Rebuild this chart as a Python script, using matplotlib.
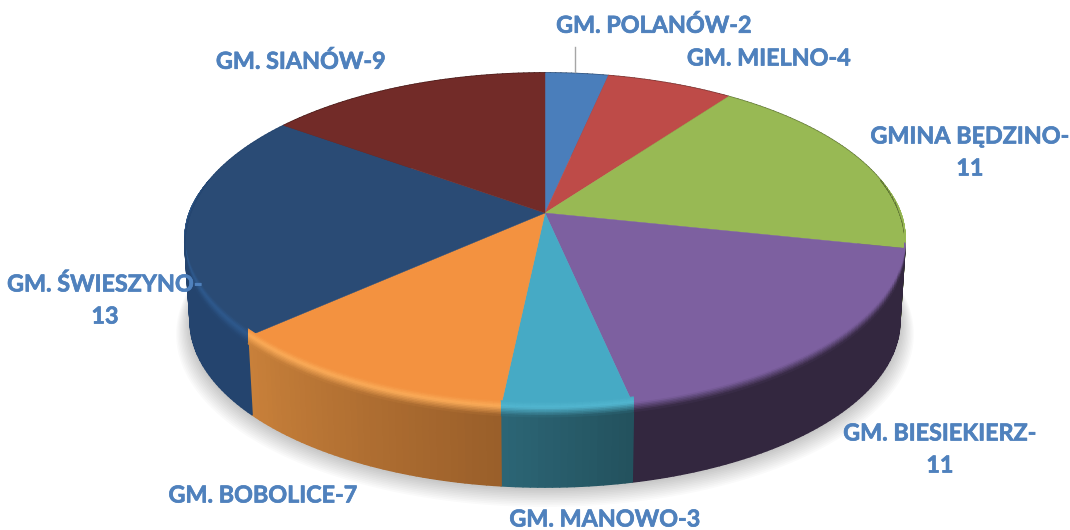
import numpy as np
import matplotlib
matplotlib.use("Agg")
import matplotlib.pyplot as plt
import matplotlib.patheffects as pe
from matplotlib.collections import PolyCollection
from matplotlib.colors import to_rgb

# Data, clockwise from 12 o'clock
names = ["GM. POLANÓW", "GM. MIELNO", "GMINA BĘDZINO", "GM. BIESIEKIERZ",
         "GM. MANOWO", "GM. BOBOLICE", "GM. ŚWIESZYNO", "GM. SIANÓW"]
values = [2, 4, 11, 11, 3, 7, 13, 9]
wrapped = [False, False, True, True, False, False, True, False]

# Top face, highlight on the bevel, rim colour at both ends of the slice
top_colors = ["#4a7ebb", "#be4b48", "#98b954", "#7d60a0", "#46aac5", "#f39240", "#2a4b75", "#722b28"]
glow_colors = ["#4a7ebb", "#be4b48", "#98b954", "#7d60a0", "#52b6d0", "#fbab58", "#2f5a8e", "#722b28"]
rim_start = ["#2c4a70", "#70302e", "#5b7032", "#33273f", "#23525e", "#9a5f2a", "#24446e", "#451a18"]
rim_end = ["#2c4a70", "#70302e", "#5b7032", "#33273f", "#2c6575", "#c8803a", "#24446e", "#451a18"]

label_color = "#4f81bd"
label_pos = [(654, 26), (769, 59), (970, 153), (940, 450),
             (605, 520), (263, 496), (105, 301), (301, 62)]

# Where the tilted disc sits, in pixels
cx, cy = 545, 213
rx, ry, tilt = 355, 163.7, 0.169
depth, shrink = 80, 0.985


# Tilted disc with a bit of perspective, so the far side looks smaller
def project(angle_deg, r=1.0):
    a = np.radians(angle_deg)
    x = r * np.sin(a)
    y = r * np.cos(a)
    d = 1 + tilt * y
    return cx + rx * x / d, cy - ry * y / d


def project_low(angle_deg, r=1.0):
    px, py = project(angle_deg, r)
    return cx + (px - cx) * shrink, cy + depth + (py - cy) * shrink


def mix(c1, c2, t):
    c1, c2 = np.array(to_rgb(c1)), np.array(to_rgb(c2))
    return tuple(c1 + (c2 - c1) * t)


fig = plt.figure(figsize=(10.7, 5.3), dpi=100)
ax = fig.add_axes([0, 0, 1, 1])
ax.set_xlim(0, 1070)
ax.set_ylim(530, 0)
ax.axis("off")

edges = np.cumsum([0] + values) * 360 / sum(values)

# Soft shadow under the pie
circle = np.linspace(0, 360, 361)
for i in range(12):
    sx, sy = project_low(circle, 1 + i * 0.0035)
    ax.fill(sx, sy + 1 + i * 0.9, color="black", alpha=0.018, lw=0, zorder=1)

# Rim of every slice, cut in small quads to get the gradient
quads, quad_colors = [], []
for i in range(len(values)):
    steps = np.arange(edges[i], edges[i + 1] + 0.01, 1.0)
    for j in range(len(steps) - 1):
        a0, a1 = steps[j], steps[j + 1]
        t = j / max(len(steps) - 2, 1)
        x0, y0 = project(a0)
        x1, y1 = project(a1)
        x2, y2 = project_low(a1)
        x3, y3 = project_low(a0)
        quads.append([(x0, y0), (x1, y1), (x2, y2), (x3, y3)])
        quad_colors.append(mix(rim_start[i], rim_end[i], t))
ax.add_collection(PolyCollection(quads, facecolors=quad_colors, edgecolors="face", linewidths=1.2, zorder=2))

# Top of every slice
for i in range(len(values)):
    a = np.arange(edges[i], edges[i + 1] + 0.01, 0.5)
    px, py = project(a)
    ax.fill(np.r_[cx, px], np.r_[cy, py], color=top_colors[i], lw=0.3, zorder=3)

# Rounded bevel between top and rim, only on the near side
offsets = np.linspace(-8, 7, 11)
quads, quad_colors = [], []
for i in range(len(values)):
    steps = np.arange(edges[i], edges[i + 1] + 0.01, 1.0)
    for j in range(len(steps) - 1):
        a0, a1 = steps[j], steps[j + 1]
        f = np.clip((0.2 - np.cos(np.radians((a0 + a1) / 2))) / 0.6, 0, 1)
        if f == 0:
            continue
        t_rim = j / max(len(steps) - 2, 1)
        x0, y0 = project(a0)
        x1, y1 = project(a1)
        for k in range(len(offsets) - 1):
            o0, o1 = offsets[k] * f, offsets[k + 1] * f
            mid = (offsets[k] + offsets[k + 1]) / 2
            if mid < -2:
                col = mix(top_colors[i], glow_colors[i], (mid + 8) / 6)
            else:
                col = mix(glow_colors[i], mix(rim_start[i], rim_end[i], t_rim), (mid + 2) / 9)
            quads.append([(x0, y0 + o0), (x1, y1 + o0), (x1, y1 + o1), (x0, y0 + o1)])
            quad_colors.append(col)
ax.add_collection(PolyCollection(quads, facecolors=quad_colors, edgecolors="face", linewidths=0.6, zorder=4))

# Leader line of the smallest slice
ax.plot([575, 575], [47, 72], color="#a6a6a6", lw=1, zorder=5)

# Labels, with a thin stroke because Lato bold is lighter than the original
for i in range(len(values)):
    sep = "-\n" if wrapped[i] else "-"
    txt = ax.text(label_pos[i][0], label_pos[i][1], names[i] + sep + str(values[i]),
                  family="Lato", fontweight="bold", fontsize=16.8, color=label_color,
                  ha="center", va="center", linespacing=1.65, zorder=6)
    txt.set_path_effects([pe.withStroke(linewidth=0.5, foreground=label_color)])

fig.savefig("out.png", dpi=100)
plt.close()
